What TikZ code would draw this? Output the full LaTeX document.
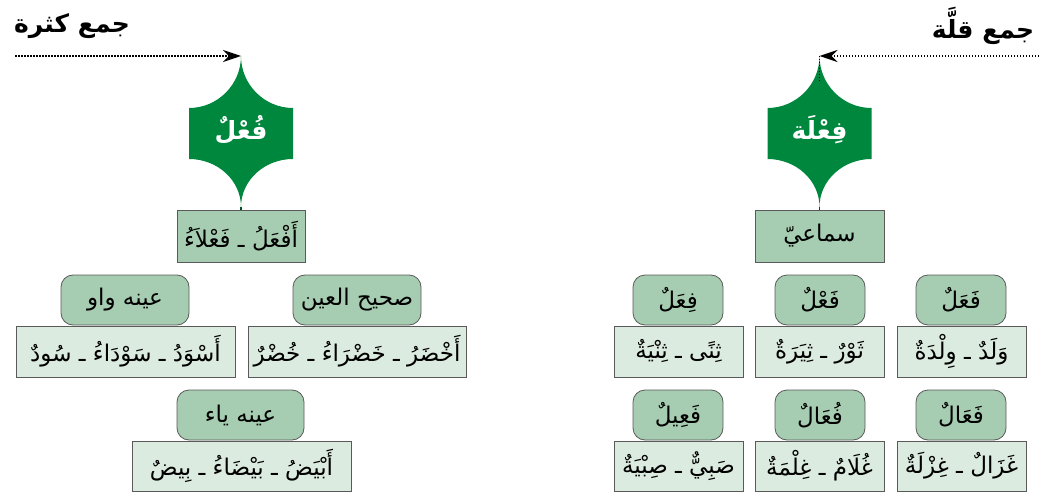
\documentclass[tikz,border=0pt]{standalone}
\usepackage{fontspec}
\usetikzlibrary{arrows.meta}
\TeXXeTstate=1
\newfontfamily\arabicfont[Script=Arabic]{DejaVu Sans}
\newcommand\artxt[1]{{\arabicfont\beginR #1\endR}}
\definecolor{starg}{HTML}{00873E}
\definecolor{midg}{HTML}{A6CDB1}
\definecolor{lightg}{HTML}{DCEBDF}
\definecolor{bordg}{HTML}{5A5A5A}
\tikzset{
  gstar/.pic={
    \fill[starg] (-52,-25.5) .. controls (-23.3,-25.5) and (0,-49) .. (0,-77.5)
      .. controls (0,-49) and (23.3,-25.5) .. (52,-25.5) -- (52,25.5)
      .. controls (23.3,25.5) and (0,47) .. (0,73.5)
      .. controls (0,47) and (-23.3,25.5) .. (-52,25.5) -- cycle;
    \coordinate (-top) at (0,-77.5);
    \coordinate (-bot) at (0,73.5);
  },
  startext/.style={text=white,font=\fontsize{25}{29}\selectfont\bfseries,inner sep=0pt},
  titletext/.style={text=black,font=\fontsize{25}{29}\selectfont\bfseries,inner sep=0pt},
  topbox/.style={rectangle,fill=midg,draw=bordg,line width=1pt,inner sep=0pt,
    minimum height=52pt,font=\fontsize{23}{27}\selectfont},
  catbox/.style={rectangle,rounded corners=12pt,fill=midg,draw=bordg,line width=0.8pt,inner sep=0pt,
    minimum height=50pt,font=\fontsize{23}{27}\selectfont},
  exbox/.style={rectangle,fill=lightg,draw=bordg,line width=1pt,inner sep=0pt,
    minimum height=51pt,font=\fontsize{23}{27}\selectfont},
  darrow/.style={line width=1.5pt,dash pattern=on 1.5pt off 1.5pt,
    -{Stealth[length=18pt,width=12pt]}},
  dotline/.style={line width=1.5pt,dash pattern=on 1.5pt off 1.5pt},
  gline/.style={starg!60!black,line width=1.5pt}
}
\begin{document}
\begin{tikzpicture}[x=1pt,y=-1pt]
\useasboundingbox (0,0) rectangle (1039,492);
% titles
\node[titletext] (lt) at (72,26) {\artxt{جمع كثرة}};
\node[titletext] (rt) at (983,26) {\artxt{جمع قلَّة}};
% stars
\pic (ls) at (241,133.5) {gstar};
\pic (rs) at (819.5,133.5) {gstar};
\node[startext] (lst) at (241,130) {\artxt{فُعْلٌ}};
\node[startext] (rst) at (819.5,130) {\artxt{فِعْلَة}};
% arrows
\coordinate (lstart) at (15,56);
\coordinate (rstart) at (1039,56);
\coordinate (rdot) at (819.5,83);
\draw[darrow] (lstart) -- (ls-top);
\draw[darrow] (rstart) -- (rs-top);
\draw[dotline] (rs-top) -- (rdot);
% left tree
\node[topbox,minimum width=128pt] (A) at (241,236) {\artxt{أَفْعَلُ ـ فَعْلاَءُ}};
\node[catbox,minimum width=128pt] (B1) at (125,300) {\artxt{عينه واو}};
\node[catbox,minimum width=128pt] (B2) at (357,300) {\artxt{صحيح العين}};
\node[exbox,minimum width=219pt] (C1) at (125.5,351.5) {\artxt{أَسْوَدُ ـ سَوْدَاءُ ـ سُودٌ}};
\node[exbox,minimum width=218pt] (C2) at (357,351.5) {\artxt{أَخْضَرُ ـ خَضْرَاءُ ـ خُضْرٌ}};
\node[catbox,minimum width=127pt] (B3) at (240.5,415) {\artxt{عينه ياء}};
\node[exbox,minimum width=219pt,minimum height=50pt] (C3) at (241.5,466) {\artxt{أَبْيَضُ ـ بَيْضَاءُ ـ بِيضٌ}};
\draw[gline] (ls-bot) -- (A.north);
% right tree
\node[topbox,minimum width=129pt] (S) at (819.5,236) {\artxt{سماعيّ}};
\draw[gline] (rs-bot) -- (S.north);
\node[catbox,minimum width=90pt] (R1) at (678,300) {\artxt{فِعَلٌ}};
\node[catbox,minimum width=90pt] (R2) at (820,300) {\artxt{فَعْلٌ}};
\node[catbox,minimum width=90pt] (R3) at (961,300) {\artxt{فَعَلٌ}};
\node[exbox,minimum width=129pt] (E1) at (678.5,351.5) {\artxt{ثِنًى ـ ثِنْيَةٌ}};
\node[exbox,minimum width=129pt] (E2) at (819.5,351.5) {\artxt{ثَوْرٌ ـ ثِيَرَةٌ}};
\node[exbox,minimum width=129pt] (E3) at (961.5,351.5) {\artxt{وَلَدٌ ـ وِلْدَةٌ}};
\node[catbox,minimum width=90pt] (R4) at (678,415) {\artxt{فَعِيلٌ}};
\node[catbox,minimum width=90pt] (R5) at (820,415) {\artxt{فُعَالٌ}};
\node[catbox,minimum width=90pt] (R6) at (961,415) {\artxt{فَعَالٌ}};
\node[exbox,minimum width=129pt,minimum height=50pt] (E4) at (678.5,466) {\artxt{صَبِيٌّ ـ صِبْيَةٌ}};
\node[exbox,minimum width=129pt,minimum height=50pt] (E5) at (819.5,466) {\artxt{غُلَامٌ ـ غِلْمَةٌ}};
\node[exbox,minimum width=129pt,minimum height=50pt] (E6) at (961.5,466) {\artxt{غَزَالٌ ـ غِزْلَةٌ}};
\end{tikzpicture}
\end{document}
